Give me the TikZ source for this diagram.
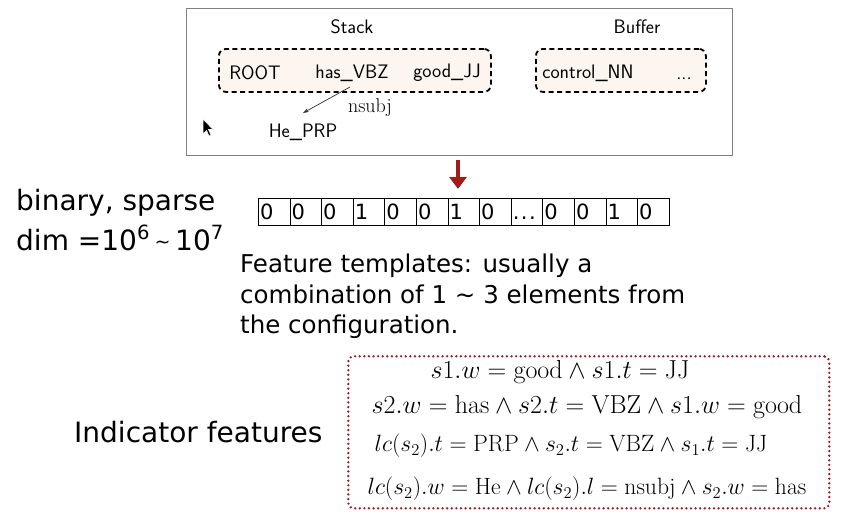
\RequirePackage{fix-cm}
\documentclass[tikz,border=0pt]{standalone}
\usepackage{fontspec}
\newfontfamily\luc{DejaVu Sans}
\usetikzlibrary{arrows.meta}
\definecolor{peach}{HTML}{FDF5EF}
\definecolor{dred}{HTML}{A01C1C}
\begin{document}
\begin{tikzpicture}[x=1pt,y=-1pt,
  tb/.style={font=\sffamily\fontsize{19.5}{22}\selectfont, inner sep=1pt},
  dbox/.style={draw=black, line width=1.8pt, dash pattern=on 5pt off 3.5pt, rounded corners=7pt, fill=peach},
  cell/.style={draw, line width=1pt, minimum height=27pt, text width=28.6pt, inner xsep=1.5pt, inner ysep=0pt, align=left, anchor=north west, font=\luc\fontsize{21}{24}\selectfont},
  big/.style={font=\luc\fontsize{28}{30}\selectfont, inner sep=0pt},
  mid/.style={font=\luc\fontsize{24.5}{30.5}\selectfont, inner sep=0pt},
  eqa/.style={font=\fontsize{26}{30}\selectfont, inner sep=0pt},
  eqb/.style={font=\fontsize{23.6}{28}\selectfont, inner sep=0pt}
]
\useasboundingbox (0,0) rectangle (847,522);
% top configuration box
\node[draw=black!50, line width=1pt, minimum width=546pt, minimum height=147pt, anchor=north west, inner sep=0] (conf) at (186,8) {};
\node[tb] (stack) at (352,27) {Stack};
\node[tb] (buffer) at (637,27) {Buffer};
\node[dbox, minimum width=272pt, minimum height=43pt, anchor=north west] (sbox) at (218,48) {};
\node[dbox, minimum width=170pt, minimum height=43pt, anchor=north west] (bbox) at (535,48) {};
\node[tb] (root) at (255,73) {ROOT};
\node[tb] (has) at (352,73) {has\_VBZ};
\node[tb] (good) at (447,73) {good\_JJ};
\node[tb] (ctrl) at (588,73) {control\_NN};
\node[tb, anchor=base] (dots) at (684,79.5) {...};
\node[tb] (he) at (303,132) {He\_PRP};
\node[font=\fontsize{20}{22}\selectfont, inner sep=0] (nsubj) at (370,108) {nsubj};
\coordinate (hestart) at (350,87);
\coordinate (heend) at (303,113);
\draw[-{Stealth[length=6pt,width=4pt]}, line width=0.7pt, black!80] (hestart) -- (heend);
% cursor
\filldraw[fill=black, draw=white, line width=0.6pt] (203,119) -- (203,134) -- (206.5,130.5) -- (209,136) -- (211,135) -- (208.5,129.5) -- (213,129.5) -- cycle;
% red arrow
\coordinate (ra1) at (458,160);
\coordinate (ra2) at (458,189);
\draw[dred, line width=4pt, -{Triangle[length=12pt,width=17pt]}] (ra1) -- (ra2);
% left labels
\node[big, anchor=west] (bin) at (16,203) {binary, sparse};
\node[big, anchor=west] (dim) at (16,238) {dim =10\textsuperscript{6}\,\raisebox{0.1ex}{\fontsize{19}{20}\selectfont\textasciitilde}\,10\textsuperscript{7}};
% array
\foreach \v [count=\i] in {0,0,0,1,0,0,1,0,{\vphantom{0}.\kern1.5pt.\kern1.5pt.},0,0,1,0}{
  \node[cell] (c\i) at ({258+31.6*(\i-1)},198) {\v};
}
% feature templates
\node[mid, anchor=north west, align=left] (ft) at (240,254) {Feature templates: usually a\\combination of 1 \textasciitilde{} 3 elements from\\the configuration.};
% indicator
\node[big, anchor=west] (ind) at (74,432) {Indicator features};
\node[draw=dred, line width=2.6pt, dash pattern=on 0pt off 4.6pt, line cap=round, rounded corners=5pt, minimum width=481pt, minimum height=152pt, anchor=north west, inner sep=0] (ebox) at (347,355) {};
\node[eqa] (e1) at (560,372) {$s1.w = \mathrm{good} \wedge s1.t = \mathrm{JJ}$};
\node[eqa] (e2) at (587,407) {$s2.w = \mathrm{has} \wedge s2.t = \mathrm{VBZ} \wedge s1.w = \mathrm{good}$};
\node[eqb] (e3) at (571,446) {$lc(s_2).t = \mathrm{PRP} \wedge s_2.t = \mathrm{VBZ} \wedge s_1.t = \mathrm{JJ}$};
\node[eqb] (e4) at (587,489) {$lc(s_2).w = \mathrm{He} \wedge lc(s_2).l = \mathrm{nsubj} \wedge s_2.w = \mathrm{has}$};
\end{tikzpicture}
\end{document}
